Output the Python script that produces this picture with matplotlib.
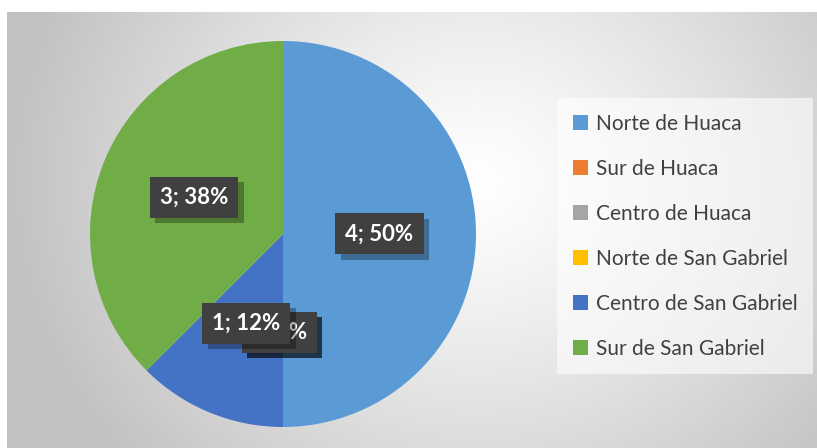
import matplotlib.pyplot as plt
import matplotlib.transforms as mtransforms
import numpy as np

# datos
categorias = ['Norte de Huaca', 'Sur de Huaca', 'Centro de Huaca',
              'Norte de San Gabriel', 'Centro de San Gabriel', 'Sur de San Gabriel']
valores = [4, 0, 0, 0, 1, 3]
colores = ['#5B9BD5', '#ED7D31', '#A5A5A5', '#FFC000', '#4472C4', '#70AD47']

plt.rcParams['font.family'] = ['Lato', 'DejaVu Sans']

fig = plt.figure(figsize=(8.17, 4.48), dpi=100)
W, H = 817, 448

# fondo con degradado radial
bg = fig.add_axes([7 / W, 0, 1 - 7 / W, 1 - 12 / H])
bg.set_axis_off()
yy, xx = np.mgrid[0:436, 0:810]
d = np.sqrt(((xx - 470) / 1.0) ** 2 + ((yy - 170) / 0.9) ** 2)
g = 1 - 0.24 * np.clip(d / 470, 0, 1) ** 1.2
bg.imshow(np.dstack([g, g, g]), aspect='auto', extent=[0, 1, 0, 1], origin='upper')

# pastel
ax = fig.add_axes([(283 - 193) / W, (H - 234 - 193) / H, 386 / W, 386 / H])
total = sum(valores)
wedges, textos, autotextos = ax.pie(
    valores, colors=colores, startangle=90, counterclock=False,
    autopct=lambda p: f"{round(p * total / 100)}; {round(p)}%",
    pctdistance=0.5, wedgeprops=dict(linewidth=0),
    textprops=dict(color='white', fontsize=16, fontweight='bold'))
ax.set_xlim(-1, 1)
ax.set_ylim(-1, 1)
ax.set_aspect('equal')

for t, v in zip(autotextos, valores):
    x, y = t.get_position()
    z = 6 if v > 0 else 4
    if v == 0:
        # las etiquetas en cero quedan apiladas detrás
        x, y = x - 0.02, y - 0.01
        t.set_position((x, y))
    sombra = mtransforms.offset_copy(ax.transData, fig=fig, x=4, y=-4, units='points')
    ax.text(x, y, t.get_text(), transform=sombra, ha='center', va='center',
            fontsize=16, fontweight='bold', color=(0, 0, 0, 0),
            bbox=dict(boxstyle='square,pad=0.45', facecolor='black', alpha=0.3,
                      edgecolor='none'), zorder=z - 0.5)
    t.set_zorder(z)
    t.set_bbox(dict(boxstyle='square,pad=0.45', facecolor='#404040', edgecolor='none'))

# leyenda
leg = fig.legend(wedges, categorias, loc='upper left',
                 bbox_to_anchor=(557 / W, 1 - 98 / H), frameon=True,
                 fancybox=False, fontsize=15, handlelength=0.75, handleheight=0.75,
                 handletextpad=0.35, labelspacing=1.2, borderpad=0.75,
                 borderaxespad=0, labelcolor='#404040')
leg.get_frame().set_facecolor('white')
leg.get_frame().set_alpha(0.6)
leg.get_frame().set_edgecolor('none')

fig.savefig('out.png', dpi=100)
